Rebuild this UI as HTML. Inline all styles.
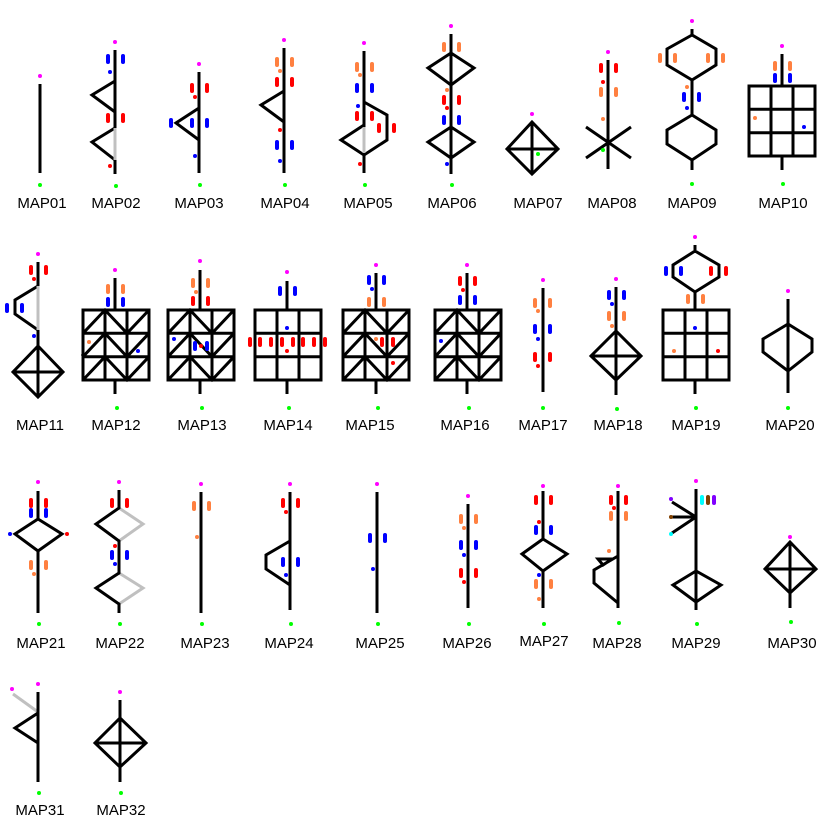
<!DOCTYPE html>
<html><head><meta charset="utf-8"><style>
html,body{margin:0;padding:0;background:#fff;}
svg{display:block;}
.l{stroke:#000;stroke-width:3;fill:none;stroke-linejoin:miter;}
.g{stroke:#c0c0c0;stroke-width:3;fill:none;}
text{font-family:"Liberation Sans",sans-serif;font-size:15px;fill:#000;text-anchor:middle;}
</style></head><body>
<svg width="840" height="831" viewBox="0 0 840 831" xmlns="http://www.w3.org/2000/svg">
<defs>
<rect id="p" x="-2" y="-5" width="4" height="10" rx="2"/>
<circle id="d" r="2"/>
<g id="grid" class="l"><rect x="0" y="0" width="66" height="70"/><path d="M22 0V70M44 0V70M0 23.3H66M0 46.7H66"/></g>
<g id="dgrid" class="l"><rect x="0" y="0" width="66" height="70"/><path d="M22 0V70M44 0V70M0 23.3H66M0 46.7H66
M0 23.3L22 0L44 23.3L66 0
M0 46.7L22 23.3L44 46.7L66 23.3
M0 70L22 46.7L44 70L66 46.7"/></g>
</defs>

<!-- MAP01 -->
<path class="l" d="M40 84V173"/>
<use href="#d" x="40" y="76" fill="#f0f"/><use href="#d" x="40" y="185" fill="#0f0"/>
<text x="42" y="208">MAP01</text>

<!-- MAP02 -->
<path class="l" d="M115 50V128M115 160V174M115 81L92 95L115 112M115 128L92 142L115 160"/>
<path class="g" d="M115 128V160"/>
<use href="#d" x="115" y="42" fill="#f0f"/><use href="#d" x="116" y="186" fill="#0f0"/>
<use href="#p" x="108" y="59" fill="#00f"/><use href="#p" x="123" y="59" fill="#00f"/><use href="#d" x="110" y="72" fill="#00f"/>
<use href="#p" x="108" y="118" fill="#f00"/><use href="#p" x="123" y="118" fill="#f00"/><use href="#d" x="110" y="166" fill="#f00"/>
<text x="116" y="208">MAP02</text>

<!-- MAP03 -->
<path class="l" d="M199 72V173M199 108L176 123L199 140"/>
<use href="#d" x="199" y="64" fill="#f0f"/><use href="#d" x="200" y="185" fill="#0f0"/>
<use href="#p" x="192" y="88" fill="#f00"/><use href="#p" x="207" y="88" fill="#f00"/><use href="#d" x="195" y="97" fill="#f00"/>
<use href="#p" x="171" y="123" fill="#00f"/><use href="#p" x="192" y="123" fill="#00f"/><use href="#p" x="207" y="123" fill="#00f"/><use href="#d" x="195" y="156" fill="#00f"/>
<text x="199" y="208">MAP03</text>

<!-- MAP04 -->
<path class="l" d="M284 48V173M284 91L261 105L284 122"/>
<use href="#d" x="284" y="40" fill="#f0f"/><use href="#d" x="285" y="185" fill="#0f0"/>
<use href="#p" x="277" y="62" fill="#ff8040"/><use href="#p" x="292" y="62" fill="#ff8040"/><use href="#d" x="280" y="71" fill="#ff8040"/>
<use href="#p" x="277" y="82" fill="#f00"/><use href="#p" x="292" y="82" fill="#f00"/><use href="#d" x="280" y="130" fill="#f00"/>
<use href="#p" x="277" y="145" fill="#00f"/><use href="#p" x="292" y="145" fill="#00f"/><use href="#d" x="280" y="161" fill="#00f"/>
<text x="285" y="208">MAP04</text>

<!-- MAP05 -->
<path class="l" d="M364 51V127M364 153V173M364 102L387 115V140L364 155M364 125L341 140L364 155"/>
<path class="g" d="M364 127V153"/>
<use href="#d" x="364" y="43" fill="#f0f"/><use href="#d" x="365" y="185" fill="#0f0"/>
<use href="#p" x="357" y="67" fill="#ff8040"/><use href="#p" x="372" y="67" fill="#ff8040"/><use href="#d" x="360" y="75" fill="#ff8040"/>
<use href="#p" x="357" y="88" fill="#00f"/><use href="#p" x="372" y="88" fill="#00f"/><use href="#d" x="358" y="106" fill="#00f"/>
<use href="#p" x="357" y="116" fill="#f00"/><use href="#p" x="372" y="116" fill="#f00"/><use href="#p" x="379" y="128" fill="#f00"/><use href="#p" x="394" y="128" fill="#f00"/><use href="#d" x="360" y="164" fill="#f00"/>
<text x="368" y="208">MAP05</text>

<!-- MAP06 -->
<path class="l" d="M451 34V174M451 53L428 68L451 85L474 68ZM451 127L428 142L451 158L474 142Z"/>
<use href="#d" x="451" y="26" fill="#f0f"/><use href="#d" x="452" y="185" fill="#0f0"/>
<use href="#p" x="444" y="47" fill="#ff8040"/><use href="#p" x="459" y="47" fill="#ff8040"/><use href="#d" x="447" y="90" fill="#ff8040"/>
<use href="#p" x="444" y="100" fill="#f00"/><use href="#p" x="459" y="100" fill="#f00"/><use href="#d" x="447" y="108" fill="#f00"/>
<use href="#p" x="444" y="120" fill="#00f"/><use href="#p" x="459" y="120" fill="#00f"/><use href="#d" x="447" y="164" fill="#00f"/>
<text x="452" y="208">MAP06</text>

<!-- MAP07 -->
<path class="l" d="M532 122L507 149L532 174L558 149ZM532 122V174M507 149H558"/>
<use href="#d" x="532" y="114" fill="#f0f"/><use href="#d" x="538" y="154" fill="#0f0"/>
<text x="538" y="208">MAP07</text>

<!-- MAP08 -->
<path class="l" d="M608 60V169M586 127L631 158M631 127L586 158"/>
<use href="#d" x="608" y="52" fill="#f0f"/><use href="#d" x="603" y="150" fill="#0f0"/>
<use href="#p" x="601" y="68" fill="#f00"/><use href="#p" x="616" y="68" fill="#f00"/><use href="#d" x="603" y="82" fill="#f00"/>
<use href="#p" x="601" y="92" fill="#ff8040"/><use href="#p" x="616" y="92" fill="#ff8040"/><use href="#d" x="603" y="119" fill="#ff8040"/>
<text x="612" y="208">MAP08</text>

<!-- MAP09 -->
<path class="l" d="M692 29V35M692 35L667 49V65L692 80L716 65V49ZM692 80V115M692 115L667 130V144L692 160L716 144V130ZM692 160V170"/>
<use href="#d" x="692" y="21" fill="#f0f"/><use href="#d" x="692" y="184" fill="#0f0"/>
<use href="#p" x="660" y="58" fill="#ff8040"/><use href="#p" x="675" y="58" fill="#ff8040"/><use href="#p" x="708" y="58" fill="#ff8040"/><use href="#p" x="723" y="58" fill="#ff8040"/><use href="#d" x="687" y="87" fill="#ff8040"/>
<use href="#p" x="684" y="97" fill="#00f"/><use href="#p" x="699" y="97" fill="#00f"/><use href="#d" x="687" y="108" fill="#00f"/>
<text x="692" y="208">MAP09</text>

<!-- MAP10 -->
<use href="#grid" x="749" y="86"/>
<path class="l" d="M782 54V86M782 156V170"/>
<use href="#d" x="782" y="46" fill="#f0f"/><use href="#d" x="783" y="184" fill="#0f0"/>
<use href="#p" x="775" y="66" fill="#ff8040"/><use href="#p" x="790" y="66" fill="#ff8040"/>
<use href="#p" x="775" y="78" fill="#00f"/><use href="#p" x="790" y="78" fill="#00f"/>
<use href="#d" x="755" y="118" fill="#ff8040"/><use href="#d" x="804" y="127" fill="#00f"/>
<text x="783" y="208">MAP10</text>

<!-- MAP11 -->
<path class="l" d="M38 262V286L15 300V314L38 330V346M38 346L13 372L38 397L63 372ZM38 346V397M13 372H63"/>
<path class="g" d="M38 286V330"/>
<use href="#d" x="38" y="254" fill="#f0f"/>
<use href="#p" x="31" y="270" fill="#f00"/><use href="#p" x="46" y="270" fill="#f00"/><use href="#d" x="34" y="279" fill="#f00"/>
<use href="#p" x="7" y="308" fill="#00f"/><use href="#p" x="22" y="308" fill="#00f"/><use href="#d" x="34" y="336" fill="#00f"/>
<text x="40" y="430">MAP11</text>

<!-- MAP12 -->
<use href="#dgrid" x="83" y="310"/>
<path class="l" d="M115 278V310M115 380V394"/>
<path d="M81 355H83" stroke="#000" stroke-width="1"/>
<use href="#d" x="115" y="270" fill="#f0f"/><use href="#d" x="117" y="408" fill="#0f0"/>
<use href="#p" x="108" y="289" fill="#ff8040"/><use href="#p" x="123" y="289" fill="#ff8040"/>
<use href="#p" x="108" y="302" fill="#00f"/><use href="#p" x="123" y="302" fill="#00f"/>
<use href="#d" x="89" y="342" fill="#ff8040"/><use href="#d" x="138" y="351" fill="#00f"/>
<text x="116" y="430">MAP12</text>

<!-- MAP13 -->
<use href="#dgrid" x="168" y="310"/>
<path class="l" d="M200 270V310M200 380V394"/>
<use href="#d" x="200" y="261" fill="#f0f"/><use href="#d" x="202" y="408" fill="#0f0"/>
<use href="#p" x="193" y="283" fill="#ff8040"/><use href="#p" x="208" y="283" fill="#ff8040"/><use href="#d" x="196" y="292" fill="#ff8040"/>
<use href="#p" x="193" y="301" fill="#f00"/><use href="#p" x="208" y="301" fill="#f00"/>
<use href="#d" x="174" y="339" fill="#00f"/><use href="#p" x="195" y="346" fill="#00f"/><use href="#p" x="207" y="346" fill="#00f"/><use href="#d" x="201" y="346" fill="#f00"/>
<text x="202" y="430">MAP13</text>

<!-- MAP14 -->
<use href="#grid" x="255" y="310"/>
<path class="l" d="M287 281V310M287 380V394"/>
<use href="#d" x="287" y="272" fill="#f0f"/><use href="#d" x="289" y="408" fill="#0f0"/>
<use href="#p" x="280" y="291" fill="#00f"/><use href="#p" x="295" y="291" fill="#00f"/><use href="#d" x="287" y="328" fill="#00f"/>
<use href="#p" x="250" y="342" fill="#f00"/><use href="#p" x="260" y="342" fill="#f00"/><use href="#p" x="271" y="342" fill="#f00"/><use href="#p" x="282" y="342" fill="#f00"/><use href="#p" x="293" y="342" fill="#f00"/><use href="#p" x="303" y="342" fill="#f00"/><use href="#p" x="314" y="342" fill="#f00"/><use href="#p" x="325" y="342" fill="#f00"/>
<use href="#d" x="287" y="351" fill="#f00"/>
<text x="288" y="430">MAP14</text>

<!-- MAP15 -->
<use href="#dgrid" x="343" y="310"/>
<path class="l" d="M376 273V310M376 380V394"/>
<use href="#d" x="376" y="265" fill="#f0f"/><use href="#d" x="378" y="408" fill="#0f0"/>
<use href="#p" x="369" y="280" fill="#00f"/><use href="#p" x="384" y="280" fill="#00f"/><use href="#d" x="372" y="289" fill="#00f"/>
<use href="#p" x="369" y="302" fill="#ff8040"/><use href="#p" x="384" y="302" fill="#ff8040"/>
<use href="#d" x="376" y="339" fill="#ff8040"/><use href="#p" x="382" y="342" fill="#f00"/><use href="#p" x="393" y="342" fill="#f00"/><use href="#d" x="393" y="363" fill="#f00"/>
<text x="370" y="430">MAP15</text>

<!-- MAP16 -->
<use href="#dgrid" x="435" y="310"/>
<path class="l" d="M467 273V310M467 380V394"/>
<use href="#d" x="467" y="265" fill="#f0f"/><use href="#d" x="469" y="408" fill="#0f0"/>
<use href="#p" x="460" y="281" fill="#f00"/><use href="#p" x="475" y="281" fill="#f00"/><use href="#d" x="463" y="290" fill="#f00"/>
<use href="#p" x="460" y="300" fill="#00f"/><use href="#p" x="475" y="300" fill="#00f"/><use href="#d" x="441" y="341" fill="#00f"/>
<text x="465" y="430">MAP16</text>

<!-- MAP17 -->
<path class="l" d="M543 288V392"/>
<use href="#d" x="543" y="280" fill="#f0f"/><use href="#d" x="543" y="408" fill="#0f0"/>
<use href="#p" x="535" y="303" fill="#ff8040"/><use href="#p" x="550" y="303" fill="#ff8040"/><use href="#d" x="538" y="311" fill="#ff8040"/>
<use href="#p" x="535" y="329" fill="#00f"/><use href="#p" x="550" y="329" fill="#00f"/><use href="#d" x="538" y="339" fill="#00f"/>
<use href="#p" x="535" y="357" fill="#f00"/><use href="#p" x="550" y="357" fill="#f00"/><use href="#d" x="538" y="366" fill="#f00"/>
<text x="543" y="430">MAP17</text>

<!-- MAP18 -->
<path class="l" d="M616 287V395M616 331L591 356L616 380L641 356ZM591 356H641"/>
<use href="#d" x="616" y="279" fill="#f0f"/><use href="#d" x="617" y="409" fill="#0f0"/>
<use href="#p" x="609" y="295" fill="#00f"/><use href="#p" x="624" y="295" fill="#00f"/><use href="#d" x="612" y="304" fill="#00f"/>
<use href="#p" x="609" y="316" fill="#ff8040"/><use href="#p" x="624" y="316" fill="#ff8040"/><use href="#d" x="612" y="326" fill="#ff8040"/>
<text x="618" y="430">MAP18</text>

<!-- MAP19 -->
<path class="l" d="M695 245V251M695 251L673 265V277L695 292L719 277V265ZM695 292V310M695 380V394"/>
<use href="#grid" x="663" y="310"/>
<use href="#d" x="695" y="237" fill="#f0f"/><use href="#d" x="696" y="408" fill="#0f0"/>
<use href="#p" x="666" y="271" fill="#00f"/><use href="#p" x="681" y="271" fill="#00f"/><use href="#p" x="711" y="271" fill="#f00"/><use href="#p" x="726" y="271" fill="#f00"/>
<use href="#p" x="688" y="299" fill="#ff8040"/><use href="#p" x="703" y="299" fill="#ff8040"/>
<use href="#d" x="695" y="328" fill="#00f"/><use href="#d" x="674" y="351" fill="#ff8040"/><use href="#d" x="718" y="351" fill="#f00"/>
<text x="696" y="430">MAP19</text>

<!-- MAP20 -->
<path class="l" d="M788 299V393M788 324L763 339V352L788 371L812 352V339Z"/>
<use href="#d" x="788" y="291" fill="#f0f"/><use href="#d" x="788" y="408" fill="#0f0"/>
<text x="790" y="430">MAP20</text>

<!-- MAP21 -->
<path class="l" d="M38 491V519M38 551V613M38 519L15 534L38 551L62 534Z"/>
<use href="#d" x="38" y="482" fill="#f0f"/><use href="#d" x="39" y="624" fill="#0f0"/>
<use href="#p" x="31" y="503" fill="#f00"/><use href="#p" x="46" y="503" fill="#f00"/>
<use href="#p" x="31" y="513" fill="#00f"/><use href="#p" x="46" y="513" fill="#00f"/>
<use href="#d" x="10" y="534" fill="#00f"/><use href="#d" x="67" y="534" fill="#f00"/>
<use href="#p" x="31" y="565" fill="#ff8040"/><use href="#p" x="46" y="565" fill="#ff8040"/><use href="#d" x="34" y="574" fill="#ff8040"/>
<text x="41" y="648">MAP21</text>

<!-- MAP22 -->
<path class="g" d="M119 508L143 524L119 541M119 573L143 588L119 604"/>
<path class="l" d="M119 490V508L96 524L119 541V573L96 588L119 604V613"/>
<use href="#d" x="119" y="482" fill="#f0f"/><use href="#d" x="120" y="624" fill="#0f0"/>
<use href="#p" x="112" y="503" fill="#f00"/><use href="#p" x="127" y="503" fill="#f00"/><use href="#d" x="115" y="546" fill="#f00"/>
<use href="#p" x="112" y="555" fill="#00f"/><use href="#p" x="127" y="555" fill="#00f"/><use href="#d" x="115" y="564" fill="#00f"/>
<text x="120" y="648">MAP22</text>

<!-- MAP23 -->
<path class="l" d="M201 492V613"/>
<use href="#d" x="201" y="484" fill="#f0f"/><use href="#d" x="202" y="624" fill="#0f0"/>
<use href="#p" x="194" y="506" fill="#ff8040"/><use href="#p" x="209" y="506" fill="#ff8040"/><use href="#d" x="197" y="537" fill="#ff8040"/>
<text x="205" y="648">MAP23</text>

<!-- MAP24 -->
<path class="l" d="M290 492V610M290 541L266 555V569L290 585"/>
<use href="#d" x="290" y="484" fill="#f0f"/><use href="#d" x="291" y="624" fill="#0f0"/>
<use href="#p" x="283" y="503" fill="#f00"/><use href="#p" x="298" y="503" fill="#f00"/><use href="#d" x="286" y="512" fill="#f00"/>
<use href="#p" x="283" y="562" fill="#00f"/><use href="#p" x="298" y="562" fill="#00f"/><use href="#d" x="286" y="575" fill="#00f"/>
<text x="289" y="648">MAP24</text>

<!-- MAP25 -->
<path class="l" d="M377 492V613"/>
<use href="#d" x="377" y="484" fill="#f0f"/><use href="#d" x="378" y="624" fill="#0f0"/>
<use href="#p" x="370" y="538" fill="#00f"/><use href="#p" x="385" y="538" fill="#00f"/><use href="#d" x="373" y="569" fill="#00f"/>
<text x="380" y="648">MAP25</text>

<!-- MAP26 -->
<path class="l" d="M468 504V608"/>
<use href="#d" x="468" y="496" fill="#f0f"/><use href="#d" x="469" y="624" fill="#0f0"/>
<use href="#p" x="461" y="519" fill="#ff8040"/><use href="#p" x="476" y="519" fill="#ff8040"/><use href="#d" x="464" y="528" fill="#ff8040"/>
<use href="#p" x="461" y="545" fill="#00f"/><use href="#p" x="476" y="545" fill="#00f"/><use href="#d" x="464" y="555" fill="#00f"/>
<use href="#p" x="461" y="573" fill="#f00"/><use href="#p" x="476" y="573" fill="#f00"/><use href="#d" x="464" y="582" fill="#f00"/>
<text x="467" y="648">MAP26</text>

<!-- MAP27 -->
<path class="l" d="M543 491V539M543 571V608M543 539L522 554L543 571L567 554Z"/>
<use href="#d" x="543" y="486" fill="#f0f"/><use href="#d" x="544" y="624" fill="#0f0"/>
<use href="#p" x="536" y="500" fill="#f00"/><use href="#p" x="551" y="500" fill="#f00"/><use href="#d" x="539" y="522" fill="#f00"/>
<use href="#p" x="536" y="530" fill="#00f"/><use href="#p" x="551" y="530" fill="#00f"/><use href="#d" x="539" y="575" fill="#00f"/>
<use href="#p" x="536" y="584" fill="#ff8040"/><use href="#p" x="551" y="584" fill="#ff8040"/><use href="#d" x="539" y="599" fill="#ff8040"/>
<text x="544" y="646">MAP27</text>

<!-- MAP28 -->
<path class="l" d="M618 491V608M618 556L594 570V583L618 603M598 559H612L603 565Z"/>
<use href="#d" x="618" y="486" fill="#f0f"/><use href="#d" x="619" y="623" fill="#0f0"/>
<use href="#p" x="611" y="500" fill="#f00"/><use href="#p" x="626" y="500" fill="#f00"/><use href="#d" x="614" y="508" fill="#f00"/>
<use href="#p" x="611" y="516" fill="#ff8040"/><use href="#p" x="626" y="516" fill="#ff8040"/><use href="#d" x="609" y="551" fill="#ff8040"/>
<text x="617" y="648">MAP28</text>

<!-- MAP29 -->
<path class="l" d="M696 489V610M696 517L672 502M696 517H672M696 517L672 533M696 571L673 585L696 602L721 585Z"/>
<use href="#d" x="696" y="481" fill="#f0f"/><use href="#d" x="697" y="624" fill="#0f0"/>
<use href="#d" x="671" y="499" fill="#8000ff"/><use href="#d" x="671" y="517" fill="#804000"/><use href="#d" x="671" y="534" fill="#0ff"/>
<use href="#p" x="702" y="500" fill="#0ff"/><use href="#p" x="708" y="500" fill="#804000"/><use href="#p" x="714" y="500" fill="#8000ff"/>
<text x="696" y="648">MAP29</text>

<!-- MAP30 -->
<path class="l" d="M790 542V608M790 542L765 569L790 593L816 569ZM765 569H816"/>
<use href="#d" x="790" y="537" fill="#f0f"/><use href="#d" x="791" y="622" fill="#0f0"/>
<text x="792" y="648">MAP30</text>

<!-- MAP31 -->
<path class="g" d="M13 694L38 712"/>
<path class="l" d="M38 692V782M38 713L15 728L38 743"/>
<use href="#d" x="38" y="684" fill="#f0f"/><use href="#d" x="12" y="689" fill="#f0f"/><use href="#d" x="39" y="793" fill="#0f0"/>
<text x="40" y="815">MAP31</text>

<!-- MAP32 -->
<path class="l" d="M120 700V782M120 718L95 743L120 767L146 743ZM95 743H146"/>
<use href="#d" x="120" y="692" fill="#f0f"/><use href="#d" x="121" y="793" fill="#0f0"/>
<text x="121" y="815">MAP32</text>
</svg>
</body></html>
